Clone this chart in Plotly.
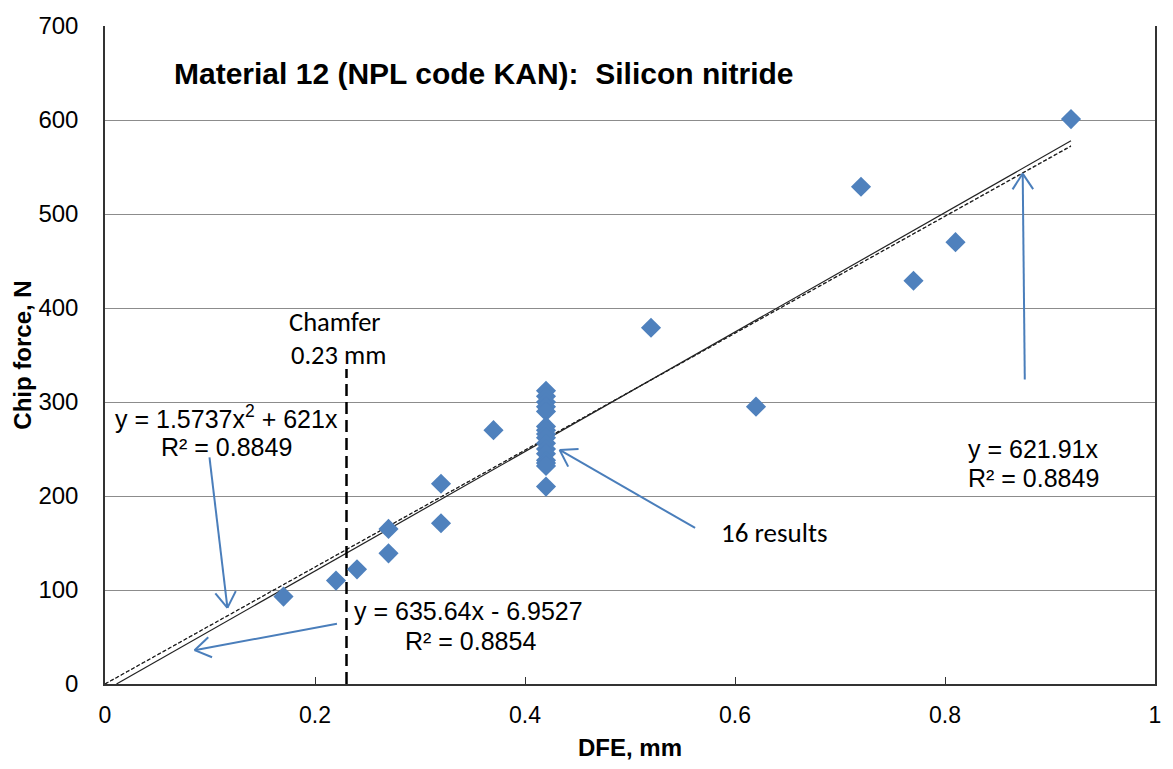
import math
import plotly.graph_objects as go

# ---------------- data ----------------
dfe_mm = [0.17, 0.22, 0.24, 0.27, 0.27, 0.32, 0.32, 0.37,
          0.42, 0.42, 0.42, 0.42, 0.42, 0.42, 0.42, 0.42,
          0.42, 0.42, 0.42, 0.42, 0.42, 0.42, 0.42, 0.42,
          0.52, 0.62, 0.72, 0.77, 0.81, 0.92]
chip_force_n = [93, 110, 122, 165, 139, 213, 171, 270,
                312, 306, 300, 295, 290, 274, 270, 266,
                262, 256, 250, 245, 238, 235, 232, 210,
                379, 295, 529, 429, 470, 601]

lin_origin_slope = 621.91
poly_a, poly_b = 1.5737, 621.0
lin_slope, lin_intercept = 635.64, -6.9527
chamfer_mm = 0.23
chamfer_top = 335

x_ticks = [0, 0.2, 0.4, 0.6, 0.8, 1]
x_tick_text = ["0", "0.2", "0.4", "0.6", "0.8", "1"]
y_ticks = [0, 100, 200, 300, 400, 500, 600, 700]

title_text = "Material 12 (NPL code KAN):  Silicon nitride"

# ---------------- layout constants ----------------
W, H = 1173, 769
ML, MR, MT, MB = 105, 13, 16, 85
PW, PH = W - ML - MR, H - MT - MB
XMAX, YMAX = 1.0, 700.0
SX, SY = PW / XMAX, PH / YMAX

BLUE = "#4f81bd"
ARROW = "#4a7ebb"
ARIAL = "Liberation Sans, Arial, sans-serif"
CALIBRI = "Carlito, Lato, Calibri, sans-serif"

fig = go.Figure()

# trend lines
x_end = max(dfe_mm)
n = 60
xs = [x_end * i / n for i in range(n + 1)]
fig.add_trace(go.Scatter(x=xs, y=[poly_a * x * x + poly_b * x for x in xs],
                         mode="lines", line=dict(color="#222", width=1, dash="dot"),
                         hoverinfo="skip", showlegend=False))
fig.add_trace(go.Scatter(x=xs, y=[lin_origin_slope * x for x in xs],
                         mode="lines", line=dict(color="#222", width=1.2, dash="4px,2px"),
                         hoverinfo="skip", showlegend=False))
x_root = -lin_intercept / lin_slope
fig.add_trace(go.Scatter(x=[x_root, x_end], y=[0, lin_slope * x_end + lin_intercept],
                         mode="lines", line=dict(color="#222", width=1.2),
                         hoverinfo="skip", showlegend=False))

# chamfer line
fig.add_trace(go.Scatter(x=[chamfer_mm, chamfer_mm], y=[0, chamfer_top], mode="lines",
                         line=dict(color="black", width=2.5, dash="12px,6px"),
                         hoverinfo="skip", showlegend=False))

# data points
fig.add_trace(go.Scatter(x=dfe_mm, y=chip_force_n, mode="markers",
                         marker=dict(symbol="diamond", size=15.5, color=BLUE,
                                     line=dict(width=0)),
                         showlegend=False))

# arrows (open V heads)
shapes = []
def arrow(x0, y0, x1, y1, head=19, ang=33):
    px0, py0 = x0 * SX, -y0 * SY
    px1, py1 = x1 * SX, -y1 * SY
    d = math.atan2(py1 - py0, px1 - px0)
    shapes.append(dict(type="line", xref="x", yref="y", x0=x0, y0=y0, x1=x1, y1=y1,
                       line=dict(color=ARROW, width=2)))
    for s in (1, -1):
        a = d + math.pi + s * math.radians(ang)
        hx = px1 + head * math.cos(a)
        hy = py1 + head * math.sin(a)
        shapes.append(dict(type="line", xref="x", yref="y", x0=x1, y0=y1,
                           x1=hx / SX, y1=-hy / SY,
                           line=dict(color=ARROW, width=2)))

arrow(0.0995, 241, 0.1166, 81)
arrow(0.2209, 64, 0.0853, 36)
arrow(0.562, 166, 0.433, 249)
arrow(0.876, 324, 0.874, 543)

ann = []
def text(x, y, t, size=25, font=ARIAL, xanchor="center", bold=False):
    ann.append(dict(x=x, y=y, xref="x", yref="y", text=(f"<b>{t}</b>" if bold else t),
                    showarrow=False, xanchor=xanchor, yanchor="middle",
                    font=dict(family=font, size=size, color="black")))

text(0.0635, 649.5, title_text, size=30, xanchor="left", bold=True)
text(0.1156, 284, "y = 1.5737x<sup>2</sup> + 621x", size=25)
text(0.1156, 252.5, "R² = 0.8849", size=25)
text(0.346, 78, "y = 635.64x - 6.9527", size=25)
text(0.348, 46, "R² = 0.8854", size=25)
text(0.884, 249.5, "y = 621.91x", size=25)
text(0.884, 219, "R² = 0.8849", size=25)
text(0.638, 161, "16 results", size=27, font=CALIBRI)
text(0.219, 385, "Chamfer", size=26.5, font=CALIBRI)
text(0.222, 350.5, "0.23 mm", size=26.5, font=CALIBRI)

fig.update_layout(
    width=W, height=H,
    margin=dict(l=ML, r=MR, t=MT, b=MB, pad=0),
    paper_bgcolor="white", plot_bgcolor="white",
    shapes=shapes, annotations=ann,
    xaxis=dict(range=[0, XMAX], tickvals=x_ticks, ticktext=x_tick_text,
               showgrid=False, zeroline=False, showline=True, linecolor="#333",
               linewidth=1.5, ticks="inside", ticklen=7, tickcolor="#333",
               ticklabelstandoff=10,
               tickfont=dict(family=ARIAL, size=23, color="black"),
               title=dict(text="<b>DFE, mm</b>", standoff=12,
                          font=dict(family=ARIAL, size=24, color="black"))),
    yaxis=dict(range=[0, YMAX], tickvals=y_ticks, showgrid=True, gridcolor="#8c8c8c",
               gridwidth=1, zeroline=False, showline=True, linecolor="#333",
               linewidth=1.5, mirror=True, ticks="", ticklabelstandoff=20,
               ticklabeloverflow="allow",
               tickfont=dict(family=ARIAL, size=24, color="black"),
               title=dict(text="<b>Chip force, N</b>", standoff=0,
                          font=dict(family=ARIAL, size=24, color="black"))),
)

fig.write_html("out.html")
